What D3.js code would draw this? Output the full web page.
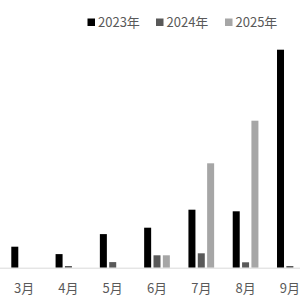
<!DOCTYPE html>
<html>
<head>
<meta charset="utf-8">
<script src="https://cdn.jsdelivr.net/npm/d3@7"></script>
<style>
  body { margin: 0; background: #fff; }
  svg { display: block; font-family: "Noto Sans CJK SC", sans-serif; }
</style>
</head>
<body>
<div id="chart"></div>
<script>
const months = ["3月", "4月", "5月", "6月", "7月", "8月", "9月"];
const seriesNames = ["2023年", "2024年", "2025年"];
const values2023 = [10.5, 6.8, 16.8, 20, 29, 28.2, 109];
const values2024 = [0, 0.85, 2.8, 6.2, 7.2, 2.7, 0.85];
const values2025 = [null, null, null, 6.2, 52.2, 73.5, null];
const colors = ["#000000", "#595959", "#a6a6a6"];

const width = 300;
const height = 300;
const baseY = 267.7;

const svg = d3.select("#chart").append("svg")
  .attr("width", width)
  .attr("height", height);

const x = d3.scaleBand().domain(months).range([2, 312]);
const y = d3.scaleLinear().domain([0, 100]).range([baseY, baseY - 200]);

const allSeries = [values2023, values2024, values2025];
const barW = 7;
const gap = 9.35;

// bars
allSeries.forEach((vals, si) => {
  svg.append("g")
    .attr("fill", colors[si])
    .selectAll("rect")
    .data(vals.map((v, i) => ({ m: months[i], v })).filter(d => d.v !== null && d.v > 0))
    .join("rect")
    .attr("x", d => x(d.m) + x.bandwidth() / 2 + (si - 1) * gap - barW / 2)
    .attr("width", barW)
    .attr("y", d => y(d.v))
    .attr("height", d => baseY - y(d.v));
});

// axis line
svg.append("line")
  .attr("x1", 0).attr("x2", width)
  .attr("y1", baseY + 0.5).attr("y2", baseY + 0.5)
  .attr("stroke", "#d9d9d9")
  .attr("stroke-width", 1);

// month labels
svg.append("g")
  .selectAll("text")
  .data(months)
  .join("text")
  .attr("x", d => x(d) + x.bandwidth() / 2)
  .attr("y", 293)
  .attr("text-anchor", "middle")
  .attr("font-size", 13)
  .attr("fill", "#595959")
  .text(d => d);

// legend
const legendX = [87.5, 156, 225];
const legend = svg.append("g")
  .selectAll("g")
  .data(seriesNames)
  .join("g")
  .attr("transform", (d, i) => `translate(${legendX[i]},0)`);

legend.append("rect")
  .attr("x", 0).attr("y", 18.5)
  .attr("width", 7.5).attr("height", 7.5)
  .attr("fill", (d, i) => colors[i]);

legend.append("text")
  .attr("x", 10.5)
  .attr("y", 26.5)
  .attr("font-size", 13)
  .attr("fill", "#595959")
  .text(d => d);
</script>
</body>
</html>
